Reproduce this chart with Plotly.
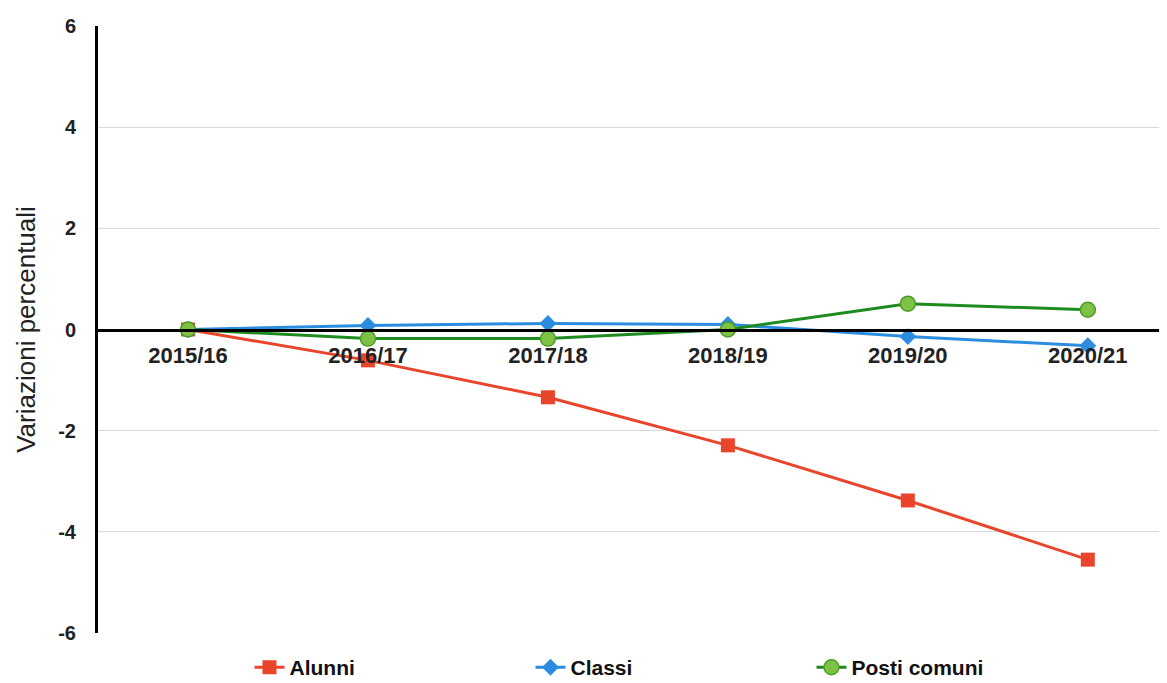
import plotly.graph_objects as go

categories = ["2015/16", "2016/17", "2017/18", "2018/19", "2019/20", "2020/21"]
alunni = [0, -0.61, -1.34, -2.29, -3.38, -4.55]
classi = [0, 0.08, 0.12, 0.10, -0.14, -0.32]
posti_comuni = [0, -0.18, -0.18, 0.0, 0.51, 0.39]
y_ticks = [-6, -4, -2, 0, 2, 4, 6]
y_tick_labels = ["-6", "-4", "-2", "0", "2", "4", "6"]

FONT = "Liberation Sans, Arial, sans-serif"

fig = go.Figure()
fig.add_trace(go.Scatter(
    x=categories, y=alunni, name="Alunni", mode="lines+markers",
    line=dict(color="#E8452C", width=3),
    marker=dict(symbol="square", size=14, color="#E8452C"),
))
fig.add_trace(go.Scatter(
    x=categories, y=classi, name="Classi", mode="lines+markers",
    line=dict(color="#2C8DE0", width=3),
    marker=dict(symbol="diamond", size=13, color="#2C8DE0"),
))
fig.add_trace(go.Scatter(
    x=categories, y=posti_comuni, name="Posti comuni", mode="lines+markers",
    line=dict(color="#1E8B1E", width=3),
    marker=dict(symbol="circle", size=15, color="#7DC242",
                line=dict(color="#4E9A2A", width=1.5)),
))

# page body has an 8px default margin; figure is sized to fill the rest
fig.update_layout(
    width=1159, height=675,
    margin=dict(l=90, r=0, t=18, b=50, autoexpand=False),
    paper_bgcolor="white", plot_bgcolor="white",
    font=dict(family=FONT, color="#222"),
    showlegend=True,
    legend=dict(
        orientation="h", x=0.1417, xanchor="left", y=-0.057, yanchor="middle",
        font=dict(family=FONT, size=21, color="#111", weight="bold"),
        entrywidth=236, entrywidthmode="pixels",
        traceorder="normal",
    ),
    xaxis=dict(
        type="category", range=[-0.5, 5.44],
        anchor="free", position=0.5, automargin=False,
        showline=True, linecolor="black", linewidth=3,
        showgrid=False, ticks="",
        tickfont=dict(family=FONT, size=22, color="#222", weight="bold"),
        ticklabelstandoff=5,
    ),
    yaxis=dict(
        range=[-6, 6], tickvals=y_ticks, ticktext=y_tick_labels,
        automargin=False,
        showline=True, linecolor="black", linewidth=3,
        showgrid=True, gridcolor="#D9D9D9", gridwidth=1,
        zeroline=False, ticks="",
        tickfont=dict(family=FONT, size=20, color="#222", weight="bold"),
        ticklabelstandoff=15,
        title=dict(text="Variazioni percentuali", standoff=16,
                   font=dict(family=FONT, size=26, color="#222")),
    ),
)

fig.write_html("out.html")
